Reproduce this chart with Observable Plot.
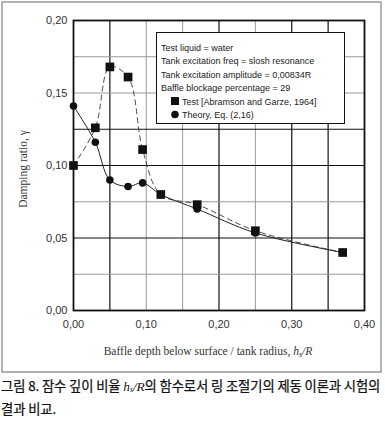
<!DOCTYPE html>
<html>
<head>
<meta charset="utf-8">
<script src="https://cdn.jsdelivr.net/npm/d3@7"></script>
<script src="https://cdn.jsdelivr.net/npm/@observablehq/plot@0.6"></script>
<style>
  html, body { margin: 0; padding: 0; background: #fff; }
  #wrap { width: 385px; }
  #caption { font-family: "Noto Sans CJK KR", sans-serif; font-size: 13.3px; line-height: 22px; color: #111; font-weight: 400; padding-left: 1px; margin-top: 0px; white-space: nowrap; letter-spacing: -0.1px; -webkit-text-stroke: 0.25px #111; }
  #caption .m { font-family: "Liberation Serif", serif; font-style: italic; font-weight: normal; -webkit-text-stroke: 0; }
  #caption sub { font-size: 8px; vertical-align: -1px; line-height: 0; }
</style>
</head>
<body>
<div id="wrap">
  <div id="chart"></div>
  <div id="caption">그림 8. 잠수 깊이 비율 <span class="m">h<sub>s</sub>/R</span>의 함수로서 링 조절기의 제동 이론과 시험의<br>결과 비교.</div>
</div>
<script>
// ---- data ----
const testX = [0.00, 0.03, 0.05, 0.075, 0.095, 0.12, 0.17, 0.25, 0.37];
const testY = [0.100, 0.126, 0.168, 0.161, 0.111, 0.080, 0.073, 0.055, 0.040];
const theoryX = [0.00, 0.03, 0.05, 0.075, 0.095, 0.12, 0.17, 0.25, 0.37];
const theoryY = [0.141, 0.116, 0.090, 0.0855, 0.088, 0.080, 0.070, 0.0535, 0.040];

const xTicks = [0.00, 0.10, 0.20, 0.30, 0.40];
const yTicks = [0.00, 0.05, 0.10, 0.15, 0.20];
const xGridDark = [0.05, 0.20, 0.30, 0.35];
const xGridLight = [0.10, 0.15, 0.25];
const yGridDark = [0.05, 0.10, 0.125];
const yGridLight = [0.025, 0.075, 0.15, 0.175];

const legendNotes = [
  "Test liquid = water",
  "Tank excitation freq = slosh resonance",
  "Tank excitation amplitude = 0,00834R",
  "Baffle blockage percentage = 29"
];
const seriesNames = ["Test [Abramson and Garze, 1964]", "Theory, Eq. (2,16)"];
const xLabel = "Baffle depth below surface / tank radius, ";
const yLabel = "Damping ratio, γ";

const test = testX.map((x, i) => ({x, y: testY[i]}));
const theory = theoryX.map((x, i) => ({x, y: theoryY[i]}));
const fmt = d => d.toFixed(2).replace(".", ",");

const W = 385, H = 375;
const chart = Plot.plot({
  width: W, height: H,
  marginLeft: 73, marginRight: 21, marginTop: 20, marginBottom: 65,
  style: {fontFamily: "'Liberation Sans', Arial, sans-serif", fontSize: "11px", color: "#333", background: "white", overflow: "visible"},
  x: {domain: [0, 0.4], ticks: xTicks, tickFormat: fmt, tickSize: 0, tickPadding: 10, label: null},
  y: {domain: [0, 0.2], ticks: yTicks, tickFormat: fmt, tickSize: 0, tickPadding: 6, label: null},
  marks: [
    Plot.ruleX(xGridLight, {stroke: "#9a9a9a", strokeWidth: 1}),
    Plot.ruleX(xGridDark, {stroke: "#111", strokeWidth: 1.2}),
    Plot.ruleY(yGridLight, {stroke: "#9a9a9a", strokeWidth: 1}),
    Plot.ruleY(yGridDark, {stroke: "#111", strokeWidth: 1.2}),
    Plot.frame({stroke: "#111", strokeWidth: 1.8}),
    Plot.line(test, {x: "x", y: "y", curve: "catmull-rom", stroke: "#333", strokeWidth: 0.9, strokeDasharray: "5,4"}),
    Plot.line(theory, {x: "x", y: "y", curve: "catmull-rom", stroke: "#222", strokeWidth: 1}),
    Plot.dot(theory, {x: "x", y: "y", symbol: "circle", r: 3.8, fill: "#111", stroke: "none"}),
    Plot.dot(test, {x: "x", y: "y", symbol: "square", r: 4.9, fill: "#111", stroke: "none"})
  ]
});
document.getElementById("chart").appendChild(chart);

const svg = d3.select(chart);
// outer border
svg.append("rect").attr("x", 2).attr("y", 2).attr("width", 379).attr("height", 370)
  .attr("fill", "none").attr("stroke", "#999").attr("stroke-width", 1.5);

// legend box
const lg = svg.append("g").attr("font-family", "'Liberation Sans', Arial, sans-serif").attr("font-size", 9)
  .attr("fill", "#222").attr("text-anchor", "start");
lg.append("rect").attr("x", 156.5).attr("y", 32.5).attr("width", 188).attr("height", 91)
  .attr("fill", "white").attr("stroke", "#111").attr("stroke-width", 1);
legendNotes.forEach((t, i) => {
  lg.append("text").attr("x", 161).attr("y", 50.5 + i * 13.5).text(t);
});
seriesNames.forEach((t, i) => {
  const cy = 101 + i * 13.5;
  if (i === 0) lg.append("rect").attr("x", 171).attr("y", cy - 4).attr("width", 8).attr("height", 8).attr("fill", "#111");
  else lg.append("circle").attr("cx", 175).attr("cy", cy).attr("r", 3.8).attr("fill", "#111");
  lg.append("text").attr("x", 182).attr("y", cy + 3.5).text(t);
});

// axis labels
const xl = svg.append("text").attr("x", 208).attr("y", 355).attr("text-anchor", "middle")
  .attr("font-family", "'Liberation Serif', 'Times New Roman', serif").attr("font-size", 11.5).attr("fill", "#333");
xl.append("tspan").text(xLabel);
xl.append("tspan").attr("font-style", "italic").text("h");
xl.append("tspan").attr("font-style", "italic").attr("font-size", 8).attr("dy", 2).text("s");
xl.append("tspan").attr("font-style", "italic").attr("dy", -2).text("/R");

svg.append("text").attr("transform", "translate(27,169) rotate(-90)").attr("text-anchor", "middle")
  .attr("font-family", "'Liberation Serif', 'Times New Roman', serif").attr("font-size", 11.5).attr("fill", "#333")
  .text(yLabel);
</script>
</body>
</html>
